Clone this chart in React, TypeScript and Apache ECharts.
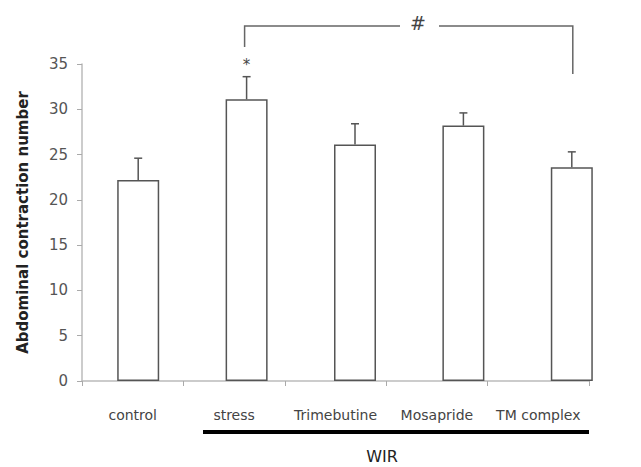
import React, { useEffect, useRef } from "react";
import * as echarts from "echarts";

const categories = ["control", "stress", "Trimebutine", "Mosapride", "TM complex"];
const means = [22.2, 31.1, 26.1, 28.2, 23.6];
const errors = [2.4, 2.5, 2.3, 1.4, 1.7];
const yTicks = { min: 0, max: 35, interval: 5 };
const groupLabel = "WIR";
const yTitle = "Abdominal contraction number";

const FONT = "DejaVu Sans";

export default function App() {
  const ref = useRef<HTMLDivElement>(null);
  useEffect(() => {
    if (!ref.current) return;
    const chart = echarts.init(ref.current, undefined, { renderer: "svg" });
    const gridTop = 64;
    const gridBottom = 86;
    const option: any = {
      animation: false,
      grid: [
        { left: 82, right: 52, top: gridTop, bottom: gridBottom },
        { left: 84, right: 15, top: gridTop, bottom: gridBottom },
      ],
      xAxis: [
        {
          type: "category",
          gridIndex: 0,
          data: categories,
          axisLine: { lineStyle: { color: "#bbb", width: 1.5 } },
          axisTick: { show: true, length: 5, lineStyle: { color: "#aaa" } },
          axisLabel: {
            color: "#444",
            fontSize: 14,
            fontFamily: FONT,
            margin: 27,
            interval: 0,
            hideOverlap: false,
          },
        },
        {
          type: "category",
          gridIndex: 1,
          data: categories,
          show: false,
        },
      ],
      yAxis: [
        {
          type: "value",
          gridIndex: 0,
          min: yTicks.min,
          max: yTicks.max,
          interval: yTicks.interval,
          axisLine: { show: true, lineStyle: { color: "#bbb", width: 1.5 } },
          axisTick: { show: true, length: 5, lineStyle: { color: "#aaa" } },
          splitLine: { show: false },
          axisLabel: { color: "#555", fontSize: 15, fontFamily: FONT, margin: 14 },
          name: yTitle,
          nameLocation: "middle",
          nameGap: 52,
          nameTextStyle: { color: "#222", fontSize: 15, fontWeight: "bold", fontFamily: FONT },
        },
        {
          type: "value",
          gridIndex: 1,
          min: yTicks.min,
          max: yTicks.max,
          show: false,
          splitLine: { show: false },
        },
      ],
      series: [
        {
          type: "bar",
          xAxisIndex: 1,
          yAxisIndex: 1,
          data: means,
          barWidth: 42,
          itemStyle: { color: "#fff", borderColor: "#555", borderWidth: 1.5 },
          z: 2,
        },
        {
          type: "custom",
          xAxisIndex: 1,
          yAxisIndex: 1,
          data: means.map((m, i) => [i, m, errors[i]]),
          renderItem: (params: any, api: any) => {
            const i = api.value(0);
            const m = api.value(1);
            const e = api.value(2);
            const p0 = api.coord([i, m]);
            const p1 = api.coord([i, m + e]);
            return {
              type: "group",
              children: [
                {
                  type: "line",
                  shape: { x1: p0[0], y1: p0[1], x2: p1[0], y2: p1[1] },
                  style: { stroke: "#555", lineWidth: 1.5 },
                },
                {
                  type: "line",
                  shape: { x1: p1[0] - 4, y1: p1[1], x2: p1[0] + 4, y2: p1[1] },
                  style: { stroke: "#555", lineWidth: 1.5 },
                },
              ],
            };
          },
          z: 3,
        },
      ],
    };
    chart.setOption(option);

    const px = (i: number, v: number) =>
      chart.convertToPixel({ xAxisIndex: 1, yAxisIndex: 1 }, [i, v]) as number[];
    const stressTop = px(1, means[1] + errors[1]);
    const tmX = px(4, 0)[0];
    const stressX = stressTop[0];
    const brY = 26;
    const hashX = 418;
    const lineStyle = { stroke: "#666", lineWidth: 1.5, fill: null };
    const axisEnd = 589;

    chart.setOption({
      graphic: [
        {
          type: "polyline",
          shape: { points: [[stressX - 2, 47], [stressX - 2, brY], [hashX - 18, brY]] },
          style: lineStyle,
        },
        {
          type: "polyline",
          shape: { points: [[hashX + 21, brY], [tmX + 1, brY], [tmX + 1, 74]] },
          style: lineStyle,
        },
        {
          type: "text",
          x: hashX,
          y: brY - 3,
          style: { text: "#", fontSize: 19, fill: "#444", fontFamily: FONT, align: "center", verticalAlign: "middle" },
        },
        {
          type: "text",
          x: stressX,
          y: stressTop[1] - 12,
          style: { text: "*", fontSize: 15, fill: "#444", fontFamily: FONT, align: "center", verticalAlign: "middle" },
        },
        {
          type: "line",
          shape: { x1: 203, y1: 432, x2: axisEnd, y2: 432 },
          style: { stroke: "#000", lineWidth: 4 },
        },
        {
          type: "text",
          x: 382,
          y: 456,
          style: { text: groupLabel, fontSize: 16, fill: "#222", fontFamily: FONT, align: "center", verticalAlign: "middle" },
        },
      ],
    });

    return () => chart.dispose();
  }, []);
  return (
    <div
      ref={ref}
      style={{ position: "absolute", left: 0, top: 0, width: 641, height: 467 }}
    />
  );
}
